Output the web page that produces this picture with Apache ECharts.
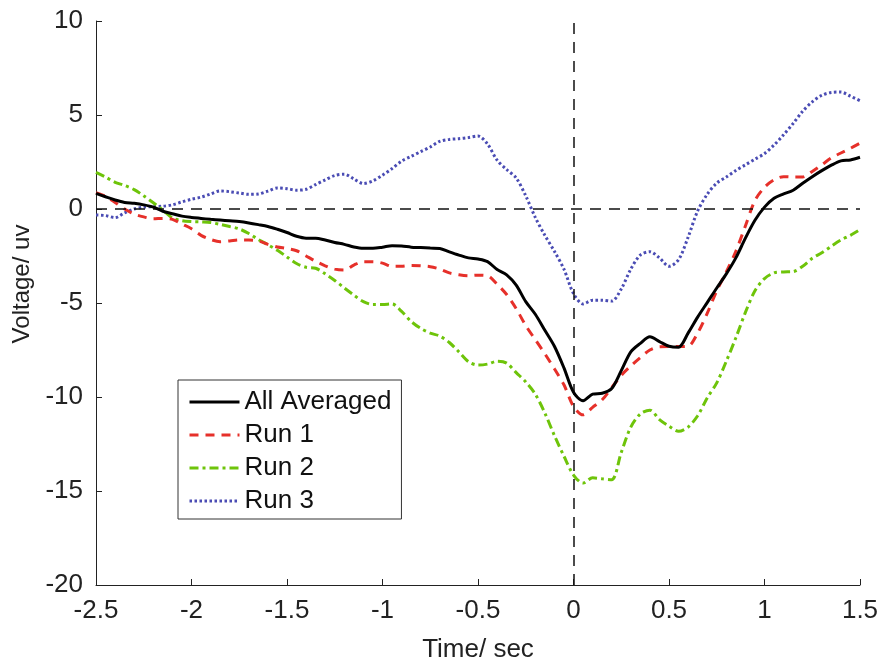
<!DOCTYPE html>
<html lang="en">
<head>
    <meta charset="UTF-8">
    <title>Voltage vs Time</title>
    <script src="https://cdn.jsdelivr.net/npm/echarts@6/dist/echarts.min.js"></script>
    <style>
        body { margin: 0; background: #fff; }
        #chart { width: 883px; height: 663px; }
    </style>
</head>
<body>
    <div id="chart"></div>
    <script>
        // time axis in seconds, one sample every 0.05 s
        const times = [
            -2.5, -2.45, -2.4, -2.35, -2.3, -2.25, -2.2, -2.15, -2.1, -2.05,
            -2, -1.95, -1.9, -1.85, -1.8, -1.75, -1.7, -1.65, -1.6, -1.55,
            -1.5, -1.45, -1.4, -1.35, -1.3, -1.25, -1.2, -1.15, -1.1, -1.05,
            -1, -0.95, -0.9, -0.85, -0.8, -0.75, -0.7, -0.65, -0.6, -0.55,
            -0.5, -0.45, -0.4, -0.35, -0.3, -0.25, -0.2, -0.15, -0.1, -0.05,
            0, 0.05, 0.1, 0.15, 0.2, 0.25, 0.3, 0.35, 0.4, 0.45,
            0.5, 0.55, 0.6, 0.65, 0.7, 0.75, 0.8, 0.85, 0.9, 0.95,
            1, 1.05, 1.1, 1.15, 1.2, 1.25, 1.3, 1.35, 1.4, 1.45, 1.5
        ];

        const allAveraged = [
            0.83, 0.65, 0.48, 0.35, 0.30, 0.22, 0.10, -0.12, -0.25, -0.38,
            -0.45, -0.50, -0.55, -0.59, -0.63, -0.67, -0.74, -0.83, -0.93, -1.08,
            -1.25, -1.45, -1.55, -1.55, -1.65, -1.78, -1.88, -2.02, -2.09, -2.09,
            -2.03, -1.95, -1.97, -2.03, -2.05, -2.08, -2.10, -2.28, -2.45, -2.60,
            -2.66, -2.80, -3.22, -3.50, -4.05, -4.93, -5.60, -6.45, -7.30, -8.45,
            -9.75, -10.20, -9.85, -9.80, -9.55, -8.60, -7.60, -7.15, -6.80, -7.05,
            -7.30, -7.35, -6.60, -5.75, -4.98, -4.20, -3.45, -2.60, -1.55, -0.60,
            0.10, 0.57, 0.80, 1.00, 1.37, 1.72, 2.04, 2.33, 2.56, 2.61, 2.75
        ];

        const run1 = [
            0.87, 0.68, 0.35, 0.00, -0.27, -0.42, -0.52, -0.50, -0.55, -0.80,
            -1.05, -1.40, -1.62, -1.74, -1.70, -1.65, -1.65, -1.70, -1.88, -2.02,
            -2.10, -2.22, -2.50, -2.78, -3.02, -3.20, -3.25, -2.98, -2.80, -2.80,
            -2.88, -3.05, -3.05, -3.00, -3.02, -3.07, -3.20, -3.40, -3.50, -3.55,
            -3.52, -3.55, -4.00, -4.55, -5.30, -6.20, -6.95, -7.70, -8.50, -9.35,
            -10.50, -10.95, -10.55, -10.15, -9.50, -8.85, -8.35, -7.90, -7.50, -7.33,
            -7.32, -7.32, -7.30, -6.60, -5.55, -4.35, -3.35, -2.25, -0.90, 0.45,
            1.15, 1.55, 1.72, 1.70, 1.70, 2.00, 2.35, 2.72, 2.98, 3.23, 3.50
        ];

        const run2 = [
            1.95, 1.70, 1.42, 1.25, 1.03, 0.70, 0.33, -0.06, -0.48, -0.62,
            -0.67, -0.69, -0.72, -0.82, -0.93, -1.06, -1.30, -1.62, -1.90, -2.20,
            -2.55, -2.90, -3.10, -3.15, -3.45, -3.80, -4.20, -4.58, -4.93, -5.08,
            -5.08, -5.05, -5.45, -5.98, -6.35, -6.60, -6.76, -7.10, -7.60, -8.12,
            -8.30, -8.25, -8.10, -8.20, -8.70, -9.20, -9.85, -10.85, -12.05, -13.15,
            -14.15, -14.58, -14.30, -14.35, -14.40, -12.95, -11.60, -10.90, -10.70, -11.20,
            -11.55, -11.82, -11.60, -11.00, -10.05, -9.25, -8.10, -6.85, -5.50, -4.35,
            -3.70, -3.40, -3.35, -3.33, -3.05, -2.62, -2.33, -1.98, -1.65, -1.40, -1.10
        ];

        const run3 = [
            -0.32, -0.35, -0.46, -0.20, 0.00, 0.10, 0.13, 0.15, 0.22, 0.38,
            0.52, 0.63, 0.80, 0.96, 0.92, 0.85, 0.78, 0.80, 0.95, 1.12,
            1.08, 1.00, 1.05, 1.30, 1.55, 1.78, 1.85, 1.60, 1.35, 1.50,
            1.80, 2.15, 2.55, 2.80, 3.05, 3.30, 3.60, 3.70, 3.74, 3.80,
            3.88, 3.45, 2.60, 2.10, 1.65, 0.70, -0.45, -1.40, -2.25, -3.20,
            -4.50, -5.05, -4.85, -4.85, -4.90, -4.25, -3.20, -2.45, -2.27, -2.60,
            -3.05, -2.70, -1.50, -0.10, 0.78, 1.38, 1.70, 2.05, 2.35, 2.65,
            2.95, 3.40, 3.95, 4.55, 5.20, 5.70, 6.05, 6.20, 6.22, 6.00, 5.76
        ];

        const seriesNames = ['All Averaged', 'Run 1', 'Run 2', 'Run 3'];

        const font = "'Liberation Sans', Arial, sans-serif";
        const pair = arr => times.map((t, i) => [t, arr[i]]);

        const chart = echarts.init(document.getElementById('chart'));

        const option = {
            animation: false,
            backgroundColor: '#fff',
            grid: { left: 96, right: 23, top: 21, bottom: 78, containLabel: false, outerBoundsMode: 'none' },
            legend: {
                data: seriesNames,
                orient: 'vertical',
                left: 178,
                top: 380,
                padding: [9, 10, 5, 10],
                itemWidth: 50,
                itemHeight: 14,
                itemGap: 7,
                backgroundColor: '#fff',
                borderColor: '#333',
                borderWidth: 1,
                borderRadius: 0,
                // hide the marker circle, keep only the line sample
                itemStyle: { opacity: 0 },
                lineStyle: { width: 3 },
                textStyle: { fontFamily: font, fontSize: 26, color: '#111', lineHeight: 26 }
            },
            xAxis: {
                type: 'value',
                min: -2.5,
                max: 1.5,
                interval: 0.5,
                name: 'Time/ sec',
                nameLocation: 'middle',
                nameGap: 52,
                nameTextStyle: { fontFamily: font, fontSize: 26, color: '#222' },
                axisLine: { onZero: false, lineStyle: { color: '#222', width: 1 } },
                axisTick: { inside: true, length: 6, lineStyle: { color: '#222' } },
                axisLabel: { fontFamily: font, fontSize: 26, color: '#222', margin: 13 },
                splitLine: { show: false }
            },
            yAxis: {
                type: 'value',
                min: -20,
                max: 10,
                interval: 5,
                name: 'Voltage/ uv',
                nameLocation: 'middle',
                nameGap: 62,
                nameTextStyle: { fontFamily: font, fontSize: 24, color: '#222', padding: [0, 0, 0, 38] },
                axisLine: { show: true, onZero: false, lineStyle: { color: '#222', width: 1 } },
                axisTick: { show: true, inside: true, length: 6, lineStyle: { color: '#222' } },
                axisLabel: { fontFamily: font, fontSize: 26, color: '#222', margin: 13 },
                splitLine: { show: false }
            },
            series: [
                {
                    name: 'All Averaged',
                    type: 'line',
                    data: pair(allAveraged),
                    symbol: 'none',
                    smooth: 0.3,
                    z: 5,
                    itemStyle: { color: '#000' },
                    lineStyle: { color: '#000', width: 3 },
                    markLine: {
                        silent: true,
                        symbol: 'none',
                        label: { show: false },
                        lineStyle: { color: '#111', width: 1.5, type: [11, 8] },
                        data: [{ xAxis: 0 }, { yAxis: 0 }]
                    }
                },
                {
                    name: 'Run 1',
                    type: 'line',
                    data: pair(run1),
                    symbol: 'none',
                    smooth: 0.3,
                    z: 4,
                    itemStyle: { color: '#e6302a' },
                    lineStyle: { color: '#e6302a', width: 3, type: [9, 7] }
                },
                {
                    name: 'Run 2',
                    type: 'line',
                    data: pair(run2),
                    symbol: 'none',
                    smooth: 0.3,
                    z: 3,
                    itemStyle: { color: '#6ec40a' },
                    lineStyle: { color: '#6ec40a', width: 3, type: [9, 4, 3, 4] }
                },
                {
                    name: 'Run 3',
                    type: 'line',
                    data: pair(run3),
                    symbol: 'none',
                    smooth: 0.3,
                    z: 2,
                    itemStyle: { color: '#4a4cb4' },
                    lineStyle: { color: '#4a4cb4', width: 3, type: [2.5, 2.5] }
                }
            ]
        };

        chart.setOption(option);
    </script>
</body>
</html>
